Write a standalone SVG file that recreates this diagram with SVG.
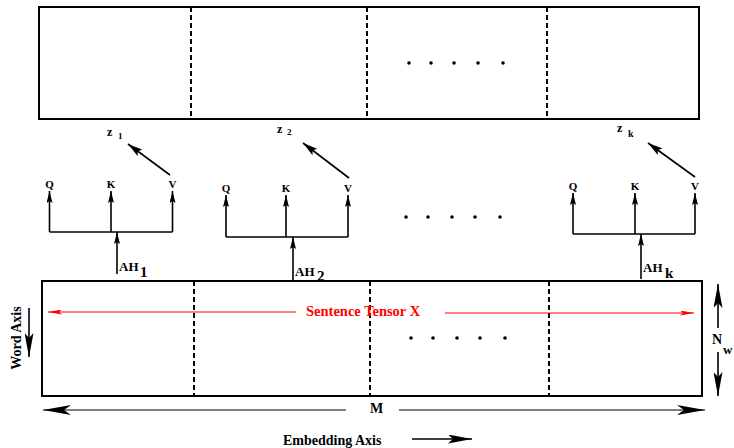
<svg xmlns="http://www.w3.org/2000/svg" width="734" height="448" viewBox="0 0 734 448">
<style>
.box{fill:none;stroke:#000;stroke-width:2}
.div{stroke:#000;stroke-width:2;stroke-dasharray:5,3}
.ln{stroke:#000;stroke-width:1.6;fill:none}
.thin{stroke:#000;stroke-width:1;fill:none}
.t{font-family:"Liberation Serif","Times New Roman",serif;font-weight:bold;fill:#000}
.red{fill:#ff0000}
.dot{fill:#000}
</style>
<defs>
<marker id="sm" viewBox="0 0 12 6" refX="12" refY="3" markerWidth="12" markerHeight="6" markerUnits="userSpaceOnUse" orient="auto"><path d="M0,0 L12,3 L0,6 L2,3 Z" fill="#000"/></marker>
<marker id="md" viewBox="0 0 15 8" refX="15" refY="4" markerWidth="15" markerHeight="8" markerUnits="userSpaceOnUse" orient="auto"><path d="M0,0 L15,4 L0,8 L3,4 Z" fill="#000"/></marker>
<marker id="lg" viewBox="0 0 24 9" refX="24" refY="4.5" markerWidth="24" markerHeight="9" markerUnits="userSpaceOnUse" orient="auto"><path d="M0,0 L24,4.5 L0,9 L5,4.5 Z" fill="#000"/></marker>
<marker id="xl" viewBox="0 0 28 10" refX="28" refY="5" markerWidth="28" markerHeight="10" markerUnits="userSpaceOnUse" orient="auto"><path d="M0,0 L28,5 L0,10 L7,5 Z" fill="#000"/></marker>
<marker id="rd" viewBox="0 0 14 5" refX="14" refY="2.5" markerWidth="14" markerHeight="5" markerUnits="userSpaceOnUse" orient="auto"><path d="M0,0 L14,2.5 L0,5 L3,2.5 Z" fill="#ff0000"/></marker>
</defs>

<g id="output-box">
<rect class="box" x="39" y="7" width="660" height="112"/>
<line class="div" x1="191" y1="7" x2="191" y2="119"/>
<line class="div" x1="367" y1="7" x2="367" y2="119"/>
<line class="div" x1="547" y1="7" x2="547" y2="119"/>
<circle class="dot" cx="409" cy="63" r="1.8"/><circle class="dot" cx="431" cy="63" r="1.8"/><circle class="dot" cx="454" cy="63" r="1.8"/><circle class="dot" cx="478" cy="63" r="1.8"/><circle class="dot" cx="503" cy="63" r="1.8"/>
</g>

<g id="sentence-tensor">
<rect class="box" x="42" y="281" width="660" height="115"/>
<line class="div" x1="194" y1="281" x2="194" y2="396"/>
<line class="div" x1="370" y1="281" x2="370" y2="396"/>
<line class="div" x1="549" y1="281" x2="549" y2="396"/>
<circle class="dot" cx="411" cy="338" r="1.8"/><circle class="dot" cx="433" cy="338" r="1.8"/><circle class="dot" cx="457" cy="338" r="1.8"/><circle class="dot" cx="480" cy="338" r="1.8"/><circle class="dot" cx="505" cy="338" r="1.8"/>
<text class="t red" x="306" y="316" font-size="14.5">Sentence Tensor X</text>
</g>

<g id="head-1">
<text class="t" x="49.5" y="188" font-size="11" text-anchor="middle">Q</text>
<text class="t" x="111" y="188" font-size="11" text-anchor="middle">K</text>
<text class="t" x="172.5" y="188" font-size="11" text-anchor="middle">V</text>
<text class="t" x="107" y="136" font-size="12">z</text><text class="t" x="118" y="139" font-size="9">1</text>
<text class="t" x="119" y="271" font-size="13">AH</text><text class="t" x="140" y="277" font-size="15">1</text>
</g>

<g id="head-2">
<text class="t" x="226" y="192" font-size="11" text-anchor="middle">Q</text>
<text class="t" x="286" y="192" font-size="11" text-anchor="middle">K</text>
<text class="t" x="348" y="192" font-size="11" text-anchor="middle">V</text>
<text class="t" x="277" y="133" font-size="12">z</text><text class="t" x="287" y="135" font-size="9">2</text>
<text class="t" x="295" y="276" font-size="13">AH</text><text class="t" x="317" y="281" font-size="15">2</text>
</g>

<g id="heads-ellipsis">
<circle class="dot" cx="406" cy="217" r="1.8"/><circle class="dot" cx="428" cy="217" r="1.8"/><circle class="dot" cx="452" cy="217" r="1.8"/><circle class="dot" cx="475" cy="217" r="1.8"/><circle class="dot" cx="500" cy="217" r="1.8"/>
</g>

<g id="head-k">
<text class="t" x="573" y="190" font-size="11" text-anchor="middle">Q</text>
<text class="t" x="635" y="190" font-size="11" text-anchor="middle">K</text>
<text class="t" x="695" y="190" font-size="11" text-anchor="middle">V</text>
<text class="t" x="617" y="132" font-size="12">z</text><text class="t" x="628" y="137" font-size="10">k</text>
<text class="t" x="643" y="272" font-size="13">AH</text><text class="t" x="665" y="278" font-size="15">k</text>
</g>

<g id="axis-labels">
<text class="t" x="370" y="413" font-size="14">M</text>
<text class="t" x="283" y="445" font-size="14">Embedding Axis</text>
<text class="t" font-size="14" text-anchor="middle" transform="translate(21,338) rotate(-90)">Word Axis</text>
<text class="t" x="712" y="344" font-size="14">N</text><text class="t" x="723" y="354" font-size="13">w</text>
</g>

<g id="connectors">
<!-- head 1 -->
<path class="ln" d="M49.5,232 H172.5"/>
<line class="ln" x1="49.5" y1="232" x2="49.5" y2="191" marker-end="url(#sm)"/>
<line class="ln" x1="111" y1="232" x2="111" y2="191" marker-end="url(#sm)"/>
<line class="ln" x1="172.5" y1="232" x2="172.5" y2="191" marker-end="url(#sm)"/>
<line class="ln" x1="117" y1="274" x2="117" y2="232" marker-end="url(#sm)"/>
<line class="ln" stroke-width="1.8" x1="170" y1="175" x2="128" y2="144" marker-end="url(#md)"/>
<!-- head 2 -->
<path class="ln" d="M226,237 H348"/>
<line class="ln" x1="226" y1="237" x2="226" y2="195" marker-end="url(#sm)"/>
<line class="ln" x1="286" y1="237" x2="286" y2="195" marker-end="url(#sm)"/>
<line class="ln" x1="348" y1="237" x2="348" y2="195" marker-end="url(#sm)"/>
<line class="ln" x1="293" y1="280" x2="293" y2="237" marker-end="url(#sm)"/>
<line class="ln" stroke-width="1.8" x1="349" y1="178" x2="303" y2="143" marker-end="url(#md)"/>
<!-- head k -->
<path class="ln" d="M573,234 H695"/>
<line class="ln" x1="573" y1="234" x2="573" y2="193" marker-end="url(#sm)"/>
<line class="ln" x1="635" y1="234" x2="635" y2="193" marker-end="url(#sm)"/>
<line class="ln" x1="695" y1="234" x2="695" y2="193" marker-end="url(#sm)"/>
<line class="ln" x1="641" y1="279" x2="641" y2="234" marker-end="url(#sm)"/>
<line class="ln" stroke-width="1.8" x1="695" y1="177" x2="648" y2="143" marker-end="url(#md)"/>
<!-- sentence tensor arrows -->
<line x1="296" y1="312" x2="48" y2="312" stroke="#ff0000" stroke-width="1" marker-end="url(#rd)"/>
<line x1="445" y1="313" x2="694" y2="313" stroke="#ff0000" stroke-width="1" marker-end="url(#rd)"/>
<!-- M arrows -->
<line class="thin" x1="346" y1="410" x2="43" y2="410" marker-end="url(#xl)"/>
<line class="thin" x1="399" y1="410" x2="705" y2="410" marker-end="url(#xl)"/>
<!-- embedding axis -->
<line class="ln" stroke-width="2.2" x1="412" y1="439" x2="472" y2="439" marker-end="url(#lg)"/>
<!-- word axis -->
<line class="ln" stroke-width="2.2" x1="29" y1="308" x2="29" y2="357" marker-end="url(#lg)"/>
<!-- N_w -->
<line class="ln" stroke-width="2.2" x1="718" y1="328" x2="718" y2="284" marker-end="url(#lg)"/>
<line class="ln" stroke-width="2.2" x1="718" y1="352" x2="718" y2="396" marker-end="url(#lg)"/>
</g>
</svg>
